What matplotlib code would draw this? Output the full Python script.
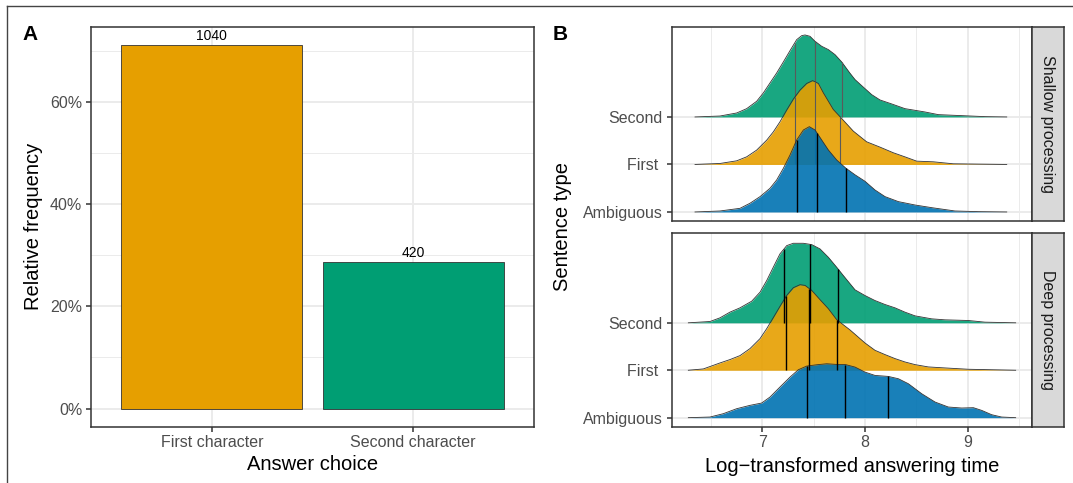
import matplotlib.pyplot as plt
import numpy as np
from matplotlib.lines import Line2D
from matplotlib.ticker import FuncFormatter, FixedLocator

plt.rcParams['font.family'] = ['Liberation Sans', 'DejaVu Sans']

W, H = 1073, 483

# ---- panel A data ----
choices = ['First character', 'Second character']
choice_counts = [1040, 420]
choice_colors = ['#E69F00', '#009E73']

# ---- panel B data ----
sentence_types = ['Ambiguous', 'First ', 'Second']
ridge_colors = ['#0072B2', '#E69F00', '#009E73']
facets = ['Shallow processing', 'Deep processing']

# ridge heights in units of the ridge spacing
shallow_amb_x = [6.345, 6.588, 6.783, 6.880, 6.978, 7.075, 7.140, 7.205, 7.270, 7.335, 7.400, 7.458, 7.513,
                 7.578, 7.643, 7.724, 7.815, 7.903, 8.0, 8.097, 8.195, 8.325, 8.487, 8.649, 8.876, 9.103, 9.380]
shallow_amb_h = [0, 0.021, 0.077, 0.183, 0.323, 0.498, 0.674, 0.919, 1.2, 1.516, 1.726, 1.796, 1.726,
                 1.516, 1.305, 1.095, 0.919, 0.782, 0.646, 0.463, 0.323, 0.218, 0.147, 0.091, 0.021, 0.007, 0]
shallow_first_x = [6.345, 6.588, 6.751, 6.848, 6.945, 7.043, 7.108, 7.172, 7.237, 7.302, 7.367, 7.432, 7.490,
                   7.546, 7.594, 7.691, 7.773, 7.886, 8.016, 8.146, 8.276, 8.389, 8.503, 8.665, 8.860, 9.103, 9.380]
shallow_first_h = [0, 0.021, 0.077, 0.161, 0.302, 0.512, 0.688, 0.898, 1.144, 1.375, 1.565, 1.705, 1.765,
                   1.705, 1.509, 1.158, 0.968, 0.702, 0.477, 0.365, 0.246, 0.160, 0.070, 0.056, 0.014, 0.007, 0]
shallow_second_x = [6.345, 6.588, 6.751, 6.848, 6.945, 7.010, 7.075, 7.140, 7.205, 7.270, 7.335, 7.384, 7.416,
                    7.464, 7.513, 7.578, 7.643, 7.708, 7.773, 7.854, 7.903, 8.0, 8.065, 8.146, 8.260, 8.389,
                    8.487, 8.584, 8.714, 8.941, 9.168, 9.380]
shallow_second_h = [0, 0.02, 0.084, 0.175, 0.33, 0.505, 0.716, 0.926, 1.158, 1.396, 1.628, 1.712, 1.726,
                    1.698, 1.593, 1.488, 1.418, 1.312, 1.158, 0.92, 0.786, 0.596, 0.47, 0.358, 0.274, 0.175,
                    0.14, 0.105, 0.049, 0.028, 0.007, 0]

deep_amb_x = [6.280, 6.491, 6.620, 6.750, 6.880, 6.994, 7.075, 7.172, 7.270, 7.351, 7.432, 7.530, 7.627,
              7.724, 7.805, 7.903, 8.0, 8.097, 8.227, 8.325, 8.422, 8.552, 8.682, 8.811, 8.941, 9.055,
              9.136, 9.233, 9.330, 9.467]
deep_amb_h = [0, 0.014, 0.084, 0.189, 0.260, 0.309, 0.435, 0.646, 0.856, 1.011, 1.088, 1.116, 1.137,
              1.123, 1.123, 1.067, 0.961, 0.891, 0.870, 0.821, 0.716, 0.505, 0.330, 0.225, 0.204, 0.211,
              0.154, 0.063, 0.014, 0]
deep_first_x = [6.280, 6.426, 6.588, 6.685, 6.783, 6.880, 6.978, 7.043, 7.107, 7.172, 7.238, 7.302, 7.367,
                7.416, 7.481, 7.562, 7.643, 7.724, 7.854, 7.903, 8.0, 8.097, 8.195, 8.292, 8.389, 8.487,
                8.617, 8.779, 9.006, 9.467]
deep_first_h = [0, 0.028, 0.154, 0.225, 0.309, 0.456, 0.667, 0.877, 1.109, 1.347, 1.579, 1.740, 1.804,
                1.789, 1.684, 1.488, 1.298, 1.067, 0.85, 0.758, 0.575, 0.421, 0.330, 0.246, 0.175, 0.119,
                0.070, 0.049, 0.021, 0]
deep_second_x = [6.280, 6.491, 6.588, 6.685, 6.783, 6.897, 6.978, 7.043, 7.107, 7.172, 7.238, 7.302, 7.399,
                 7.481, 7.562, 7.643, 7.724, 7.789, 7.903, 8.0, 8.097, 8.195, 8.292, 8.389, 8.487, 8.649,
                 8.779, 9.006, 9.168, 9.467]
deep_second_h = [0, 0.028, 0.105, 0.225, 0.316, 0.456, 0.646, 0.891, 1.172, 1.453, 1.628, 1.677, 1.677,
                 1.649, 1.558, 1.382, 1.172, 0.996, 0.695, 0.575, 0.47, 0.386, 0.316, 0.225, 0.147, 0.084,
                 0.063, 0.049, 0.014, 0]

# quartiles (25/50/75 %)
shallow_quantiles = [[7.335, 7.53, 7.815], [7.318, 7.513, 7.76], [7.318, 7.513, 7.773]]
deep_quantiles = [[7.439, 7.808, 8.227], [7.234, 7.458, 7.730], [7.214, 7.464, 7.734]]

GRID = '#EBEBEB'
DARK = '#333333'
TICK_TXT = '#4D4D4D'


def px_box(left, top, right, bottom):
    return [left / W, 1 - bottom / H, (right - left) / W, (bottom - top) / H]


def style_axes(ax):
    for s in ax.spines.values():
        s.set_color(DARK)
        s.set_linewidth(1.1)
    ax.set_facecolor('white')
    ax.set_axisbelow(True)
    ax.grid(which='major', color=GRID, lw=1.4)
    ax.grid(which='minor', color=GRID, lw=0.7)
    ax.tick_params(which='major', length=3.3, width=1.1, color=DARK, labelcolor=TICK_TXT,
                   labelsize=11.5, pad=3)
    ax.tick_params(which='minor', length=0)


fig = plt.figure(figsize=(W / 100, H / 100), dpi=100)

# outer frame (top and left edges only are visible)
fig.add_artist(Line2D([7 / W, 1], [1 - 6 / H, 1 - 6 / H], transform=fig.transFigure, color='#444444', lw=1))
fig.add_artist(Line2D([7 / W, 7 / W], [0, 1 - 6 / H], transform=fig.transFigure, color='#444444', lw=1))

# ---------------- panel A ----------------
axA = fig.add_axes(px_box(91, 26.7, 534, 426.7))
style_axes(axA)
freq = np.array(choice_counts) / np.sum(choice_counts)
pos = np.arange(len(choices))
axA.bar(pos, freq, width=0.9, color=choice_colors, edgecolor=DARK, lw=0.6, zorder=2)
for p, f, c in zip(pos, freq, choice_counts):
    axA.annotate(str(c), (p, f), xytext=(0, 1), textcoords='offset points',
                 ha='center', va='bottom', fontsize=10, color='black', zorder=3)
axA.set_xlim(-0.6, 1.6)
axA.set_ylim(-0.05 * freq.max(), 1.05 * freq.max())
axA.set_xticks(pos)
axA.set_xticklabels(choices)
axA.yaxis.set_major_locator(FixedLocator([0, 0.2, 0.4, 0.6]))
axA.yaxis.set_minor_locator(FixedLocator([0.1, 0.3, 0.5, 0.7]))
axA.yaxis.set_major_formatter(FuncFormatter(lambda v, _: f'{v * 100:.0f}%'))

fig.text(34 / W, 1 - 226.7 / H, 'Relative frequency', rotation=90, ha='center', va='center', fontsize=14.5)
fig.text(312.5 / W, 1 - 465 / H, 'Answer choice', ha='center', va='center', fontsize=14.5)
fig.text(22 / W, 1 - 34 / H, 'A', ha='left', va='center', fontsize=15, fontweight='bold')

# ---------------- panel B ----------------
facet_data = [
    ([(shallow_amb_x, shallow_amb_h), (shallow_first_x, shallow_first_h), (shallow_second_x, shallow_second_h)],
     shallow_quantiles),
    ([(deep_amb_x, deep_amb_h), (deep_first_x, deep_first_h), (deep_second_x, deep_second_h)],
     deep_quantiles),
]
facet_boxes = [(26.7, 221.0), (232.7, 426.7)]

for k, ((curves, quants), (top, bottom)) in enumerate(zip(facet_data, facet_boxes)):
    ax = fig.add_axes(px_box(671.7, top, 1031.7, bottom))
    style_axes(ax)
    # draw from the top ridge down so lower ridges overlap upper ones
    for i in [2, 1, 0]:
        x = np.array(curves[i][0])
        h = np.array(curves[i][1])
        y0 = i + 1
        z = 10 + (2 - i) * 3
        ax.fill_between(x, y0, y0 + h, color=ridge_colors[i], alpha=0.9, lw=0, zorder=z)
        ax.plot(x, y0 + h, color=DARK, lw=0.6, zorder=z + 1)
        if k == 0 and i > 0:
            qcol, qlw, qz = '#5a5a5a', 0.8, z + 1
        else:
            qcol, qlw, qz = 'black', 1.0, 30
        for q in quants[i]:
            ax.plot([q, q], [y0, y0 + np.interp(q, x, h)], color=qcol, lw=qlw, zorder=qz,
                    solid_capstyle='butt')
    ax.set_xlim(6.118, 9.623)
    ax.set_ylim(0.81, 4.9)
    ax.xaxis.set_major_locator(FixedLocator([7, 8, 9]))
    ax.xaxis.set_minor_locator(FixedLocator([6.5, 7.5, 8.5, 9.5]))
    ax.yaxis.set_major_locator(FixedLocator([1, 2, 3]))
    ax.set_yticklabels(sentence_types)
    if k == 0:
        ax.tick_params(axis='x', which='major', length=0, labelbottom=False)
    else:
        ax.tick_params(axis='x', labelsize=11.5)

    strip = fig.add_axes(px_box(1031.7, top, 1064, bottom))
    strip.set_facecolor('#D9D9D9')
    strip.set_xticks([])
    strip.set_yticks([])
    for s in strip.spines.values():
        s.set_color(DARK)
        s.set_linewidth(1.1)
    strip.text(0.5, 0.5, facets[k], rotation=270, ha='center', va='center',
               fontsize=11.5, color='#1A1A1A', transform=strip.transAxes)

fig.text(563 / W, 1 - 226.7 / H, 'Sentence type', rotation=90, ha='center', va='center', fontsize=14.5)
fig.text(851.7 / W, 1 - 466.7 / H, 'Log\u2212transformed answering time', ha='center', va='center',
         fontsize=14.5)
fig.text(553 / W, 1 - 35 / H, 'B', ha='left', va='center', fontsize=15, fontweight='bold')

fig.savefig('out.png', dpi=100)
